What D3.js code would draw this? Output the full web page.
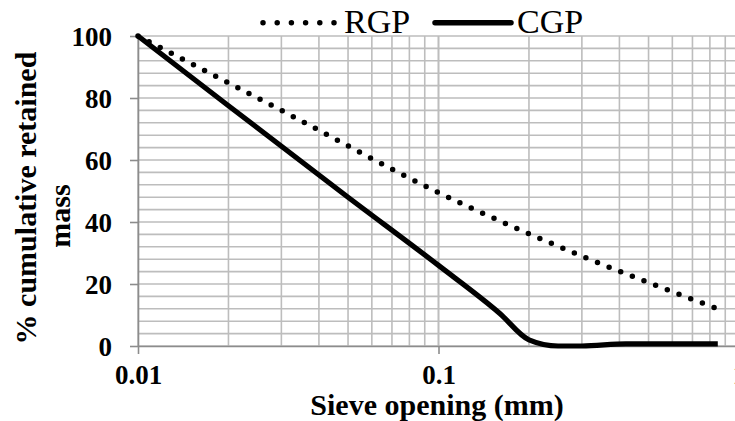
<!DOCTYPE HTML>
<html>
<head>
	<meta charset="UTF-8">
	<script src="https://d3js.org/d3.v7.min.js"></script>
	<style type="text/css">
	body { margin: 0; background-color: #ffffff; overflow: hidden; }
	text { font-family: "Liberation Serif", "Times New Roman", serif; fill: #000; }
	.grid line { stroke: #bdbdbd; stroke-width: 1.6; }
	.axis path, .axis line { stroke: #8c8c8c; stroke-width: 1.6; }
	.tick-label { font-weight: bold; font-size: 27px; }
	.title { font-weight: bold; font-size: 30px; }
	.legend { font-size: 34px; }
	</style>
	<title>Sieve curves</title>
</head>
<body>
	<div id="chart"></div>
<script>
// sieve opening (mm) and % cumulative retained mass
var rgpSize = [0.01, 0.03, 0.1, 0.3, 0.85];
var rgpMass = [100, 76, 49.5, 29, 12];

var cgpSize = [0.01, 0.02, 0.05, 0.1, 0.16, 0.2, 0.25, 0.3, 0.42, 0.85];
var cgpMass = [100, 77.5, 48, 26, 10.5, 2, 0, 0, 0.7, 0.7];

var xTicks = [0.01, 0.1, 1];
var xTickLabels = ["0.01", "0.1", "1"];
var yTicks = [0, 20, 40, 60, 80, 100];
var seriesNames = ["RGP", "CGP"];

var W = 735, H = 421;
var margin = {left: 138, top: 36, right: -4, bottom: 75};
var width = W - margin.left - margin.right,
    height = H - margin.top - margin.bottom;

var svg = d3.select("#chart").append("svg")
    .attr("width", W)
    .attr("height", H);

var x = d3.scaleLog().domain([0.01, 1]).range([margin.left, margin.left + width]);
var y = d3.scaleLinear().domain([0, 100]).range([margin.top + height, margin.top]);

// minor log grid (2..9 per decade) + major decades
var xGrid = [];
[0.01, 0.1].forEach(function(d) {
  for (var k = 1; k <= 10; k++) xGrid.push(d * k);
});
var yGrid = d3.range(0, 101, 4);

var grid = svg.append("g").attr("class", "grid");
grid.selectAll(".v").data(xGrid).enter().append("line")
    .attr("x1", function(d) { return x(d); })
    .attr("x2", function(d) { return x(d); })
    .attr("y1", y(0)).attr("y2", y(100));
grid.selectAll(".h").data(yGrid).enter().append("line")
    .attr("x1", x(0.01)).attr("x2", x(1))
    .attr("y1", function(d) { return y(d); })
    .attr("y2", function(d) { return y(d); });

// axes
var xAxis = svg.append("g")
    .attr("class", "axis")
    .attr("transform", "translate(0," + y(0) + ")")
    .call(d3.axisBottom(x).tickValues(xTicks).tickSize(8).tickSizeOuter(0).tickFormat(function(d, i) { return xTickLabels[i]; }));
xAxis.selectAll("text").attr("class", "tick-label").attr("dy", null).attr("y", 38);

var yAxis = svg.append("g")
    .attr("class", "axis")
    .attr("transform", "translate(" + x(0.01) + ",0)")
    .call(d3.axisLeft(y).tickValues(yTicks).tickSize(8).tickSizeOuter(0));
yAxis.selectAll("text").attr("class", "tick-label").attr("x", -26).attr("dy", "0.35em");
svg.selectAll(".axis text").style("font-family", "'Liberation Serif', serif").style("fill", "#000");

// lines
var line = d3.line()
    .x(function(d) { return x(d[0]); })
    .y(function(d) { return y(d[1]); })
    .curve(d3.curveMonotoneX);

var rgp = rgpSize.map(function(d, i) { return [d, rgpMass[i]]; });
var cgp = cgpSize.map(function(d, i) { return [d, cgpMass[i]]; });

svg.append("path")
    .attr("d", line(rgp))
    .attr("fill", "none")
    .attr("stroke", "#000")
    .attr("stroke-width", 5.5)
    .attr("stroke-linecap", "round")
    .attr("stroke-dasharray", "0 12.5");

svg.append("path")
    .attr("d", line(cgp))
    .attr("fill", "none")
    .attr("stroke", "#000")
    .attr("stroke-width", 5.2)
    .attr("stroke-linejoin", "round");

// legend
var lg = svg.append("g");
lg.append("line")
    .attr("x1", 263).attr("x2", 334).attr("y1", 22.7).attr("y2", 22.7)
    .attr("stroke", "#000").attr("stroke-width", 5.5)
    .attr("stroke-linecap", "round").attr("stroke-dasharray", "0 14.2");
lg.append("text").attr("class", "legend").attr("x", 344).attr("y", 33).text(seriesNames[0]);
lg.append("line")
    .attr("x1", 435).attr("x2", 511).attr("y1", 22.7).attr("y2", 22.7)
    .attr("stroke", "#000").attr("stroke-width", 5.5).attr("stroke-linecap", "round");
lg.append("text").attr("class", "legend").attr("x", 517).attr("y", 33).text(seriesNames[1]);

// axis titles
svg.append("text")
    .attr("class", "title")
    .attr("text-anchor", "middle")
    .attr("x", 437).attr("y", 415)
    .text("Sieve opening (mm)");

var yt = svg.append("text")
    .attr("class", "title")
    .attr("text-anchor", "middle")
    .attr("transform", "translate(36,198) rotate(-90)");
yt.append("tspan").attr("x", 0).attr("y", 0).text("% cumulative retained");
yt.append("tspan").attr("x", -18).attr("y", 34).text("mass");
</script>
</body>
</html>
